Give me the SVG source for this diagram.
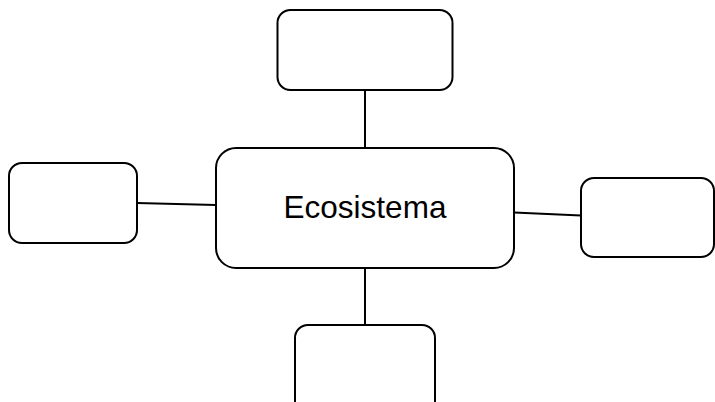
<svg xmlns="http://www.w3.org/2000/svg" width="715" height="402" viewBox="0 0 715 402">
<style>
.box{fill:#fff;stroke:#000;stroke-width:2}
.conn{stroke:#000;stroke-width:2;fill:none}
.lbl{font-family:"Liberation Sans",Arial,sans-serif;font-size:31.5px;fill:#000;text-anchor:middle}
</style>
<rect width="715" height="402" fill="#fff"/>
<g id="connectors">
<line class="conn" x1="365" y1="90" x2="365" y2="148"/>
<line class="conn" x1="137" y1="203" x2="216" y2="205"/>
<line class="conn" x1="514" y1="212.5" x2="581" y2="215.5"/>
<line class="conn" x1="365" y1="268" x2="365" y2="325"/>
</g>
<g id="center">
<rect class="box" x="216" y="148" width="298" height="120" rx="20"/>
<text class="lbl" x="365" y="218">Ecosistema</text>
</g>
<g id="top">
<rect class="box" x="277.5" y="10" width="175" height="80" rx="13"/>
</g>
<g id="left">
<rect class="box" x="9" y="163" width="128" height="80" rx="13"/>
</g>
<g id="right">
<rect class="box" x="581" y="178" width="133" height="79" rx="13"/>
</g>
<g id="bottom">
<rect class="box" x="295" y="325" width="140" height="90" rx="13"/>
</g>
</svg>
